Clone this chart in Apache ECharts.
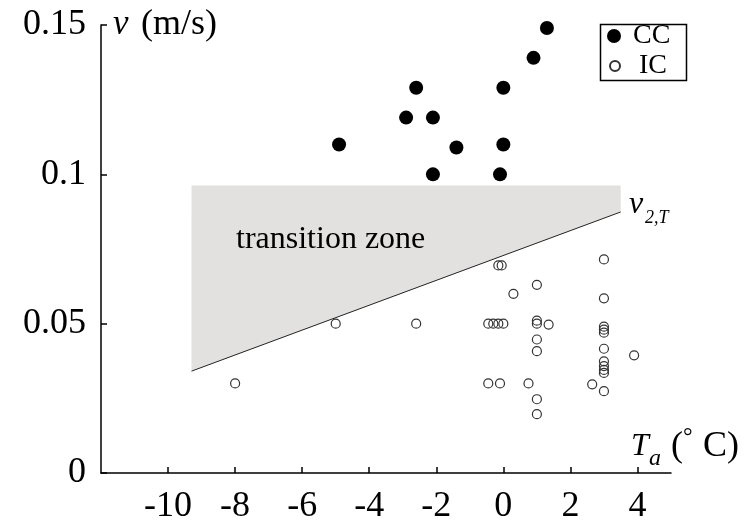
<!DOCTYPE html>
<html>
<head>
<meta charset="utf-8">
<script src="https://cdn.jsdelivr.net/npm/echarts@6/dist/echarts.min.js"></script>
<style>
html, body { margin: 0; padding: 0; background: #fff; }
#chartmain { width: 745px; height: 527px; }
</style>
</head>
<body>
<div id="chartmain"></div>
<script>
// CC (filled) points
var ccT = [-4.9, -2.6, -2.9, -2.1, -1.4, -2.1, 0, 0, -0.1, 0.9, 1.3];
var ccV = [0.110, 0.129, 0.119, 0.119, 0.109, 0.100, 0.129, 0.110, 0.100, 0.139, 0.149];
// IC (open) points
var icT = [-8, -5, -2.6, -0.45, -0.3, -0.15, 0, -0.45, -0.1, -0.15, -0.05, 0.3, 0.75,
	1, 1, 1, 1.35, 1, 1, 1, 1, 2.65, 3, 3, 3, 3, 3, 3, 3, 3, 3, 3, 3, 3.9];
var icV = [0.030, 0.050, 0.050, 0.050, 0.050, 0.050, 0.050, 0.030, 0.030, 0.0695, 0.0695, 0.060, 0.030,
	0.063, 0.051, 0.050, 0.0497, 0.0447, 0.0408, 0.0247, 0.0197, 0.0297, 0.0715, 0.0585,
	0.049, 0.048, 0.047, 0.0416, 0.0374, 0.0358, 0.0345, 0.0335, 0.0274, 0.0394];
// transition zone and v2,T line
var zoneT = [-9.3, 3.5, 3.5, -9.3];
var zoneV = [0.0963, 0.0963, 0.0874, 0.0341];
var lineT = [-9.3, 3.5];
var lineV = [0.0341, 0.0874];
// ticks
var xTicks = [-10, -8, -6, -4, -2, 0, 2, 4];
var yTicks = [0, 0.05, 0.1, 0.15];
var yTickLabels = ['0', '0.05', '0.1', '0.15'];

var serif = 'Liberation Serif';

function pairs(a, b) {
	var out = [];
	for (var i = 0; i < a.length; i++) {
		out.push([a[i], b[i]]);
	}
	return out;
}

function label(x, y, text, size, italic) {
	return {
		type: 'text', x: x, y: y, z: 100,
		style: { text: text, fontFamily: serif, fontSize: size, fontStyle: italic ? 'italic' : 'normal', fill: '#000', verticalAlign: 'middle' }
	};
}

var option = {
	animation: false,
	grid: { left: 101, right: 74, top: 25, bottom: 54 },
	xAxis: {
		type: 'value',
		min: -12,
		max: 5,
		splitLine: { show: false },
		axisLine: { lineStyle: { color: '#000', width: 1.5 } },
		axisTick: { inside: true, length: 6, customValues: xTicks, lineStyle: { color: '#000', width: 1.5 } },
		axisLabel: {
			customValues: xTicks,
			margin: 16,
			color: '#000',
			fontFamily: serif,
			fontSize: 36
		}
	},
	yAxis: {
		type: 'value',
		min: 0,
		max: 0.15,
		splitLine: { show: false },
		axisLine: { onZero: false, lineStyle: { color: '#000', width: 1.5 } },
		axisTick: { inside: true, length: 6, customValues: yTicks, lineStyle: { color: '#000', width: 1.5 } },
		axisLabel: {
			customValues: yTicks,
			margin: 15,
			color: '#000',
			fontFamily: serif,
			fontSize: 36,
			formatter: function(v) {
				for (var i = 0; i < yTicks.length; i++) {
					if (Math.abs(yTicks[i] - v) < 1e-9) return yTickLabels[i];
				}
				return '';
			}
		}
	},
	legend: [{
		data: ['CC'],
		left: 607,
		top: 22,
		padding: 0,
		itemWidth: 14,
		itemHeight: 14,
		textStyle: { fontFamily: serif, fontSize: 28, lineHeight: 28, color: '#000', padding: [0, 0, 0, 7] }
	}, {
		data: ['IC'],
		left: 609,
		top: 52,
		padding: 0,
		itemWidth: 10,
		itemHeight: 10,
		textStyle: { fontFamily: serif, fontSize: 28, lineHeight: 28, color: '#000', padding: [0, 0, 0, 14] }
	}],
	graphic: [
		{ type: 'rect', left: 598, top: 22, z: 100, shape: { width: 86, height: 56 }, style: { fill: 'none', stroke: '#000', lineWidth: 1.5 } },
		label(113, 25, 'v', 35, true),
		label(141, 25, '(m/s)', 36, false),
		label(631, 447, 'T', 32, true),
		label(649, 459, 'a', 24, true),
		label(671, 447, '(', 36, false),
		label(683, 438, '°', 24, false),
		label(703, 447, 'C)', 36, false),
		label(629, 205, 'v', 32, true),
		label(645, 218, '2,T', 18, true),
		label(236, 240, 'transition zone', 32, false)
	],
	series: [{
		type: 'custom',
		silent: true,
		z: 1,
		data: [0],
		renderItem: function(params, api) {
			var pts = [];
			for (var i = 0; i < zoneT.length; i++) {
				pts.push(api.coord([zoneT[i], zoneV[i]]));
			}
			return { type: 'polygon', shape: { points: pts }, style: { fill: '#e3e0e0' } };
		}
	}, {
		type: 'line',
		silent: true,
		z: 2,
		symbol: 'none',
		data: pairs(lineT, lineV),
		lineStyle: { color: '#222', width: 1 }
	}, {
		name: 'CC',
		type: 'scatter',
		z: 3,
		symbol: 'circle',
		symbolSize: 14,
		itemStyle: { color: '#000', opacity: 1 },
		data: pairs(ccT, ccV)
	}, {
		name: 'IC',
		type: 'scatter',
		z: 3,
		symbol: 'circle',
		symbolSize: 9,
		itemStyle: { color: 'rgba(255,255,255,0)', borderColor: '#333', borderWidth: 1.2, opacity: 1 },
		data: pairs(icT, icV)
	}]
};
var myChart = echarts.init(document.getElementById('chartmain'));
myChart.setOption(option);
</script>
</body>
</html>
